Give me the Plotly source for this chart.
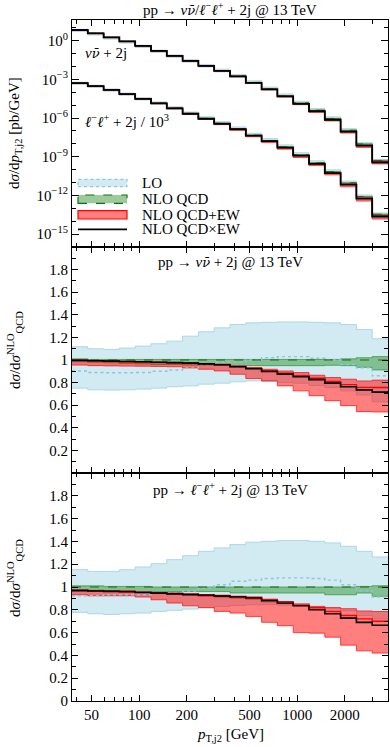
import plotly.graph_objects as go
from plotly.subplots import make_subplots
import math

# ---------------- data ----------------
edges = [37.6, 47.3, 59.6, 75.0, 94.4, 118.9, 149.6, 188.4, 237.1, 298.5, 375.8,
         473.2, 595.7, 749.9, 944.1, 1188.5, 1496.2, 1883.6, 2371.4, 2985.4, 3758.4]

# top panel: NLO QCDxEW differential cross sections [pb/GeV]
nn_qcdxew = [6.7, 3.7, 1.77, 0.865, 0.388, 0.159, 0.0655, 0.0269, 0.0110, 4.53e-3,
             1.70e-3, 5.35e-4, 1.68e-4, 4.82e-5, 1.27e-5, 3.34e-6, 7.35e-7, 8.67e-8,
             7.16e-9, 3.66e-10]
ll_qcdxew_scaled = [5.06e-4, 2.96e-4, 1.53e-4, 7.14e-5, 3.09e-5, 1.39e-5, 5.69e-6,
                    2.14e-6, 8.77e-7, 3.60e-7, 1.35e-7, 4.25e-8, 1.60e-8, 5.02e-9,
                    1.21e-9, 2.75e-10, 5.35e-11, 6.90e-12, 5.7e-13, 2.31e-14]

# ratios to NLO QCD, nu nubar + 2j
nn_lo_c  = [0.903, 0.889, 0.887, 0.887, 0.889, 0.90, 0.912, 0.93, 0.96, 0.982,
            0.982, 1.0, 1.02, 1.03, 1.03, 1.015, 1.0, 0.96, 0.93, 0.86]
nn_lo_up = [1.117, 1.10, 1.094, 1.106, 1.123, 1.144, 1.167, 1.211, 1.25, 1.285,
            1.314, 1.329, 1.334, 1.337, 1.337, 1.334, 1.329, 1.314, 1.27, 1.188]
nn_lo_dn = [0.751, 0.736, 0.734, 0.736, 0.742, 0.751, 0.763, 0.771, 0.786, 0.795,
            0.807, 0.815, 0.81, 0.80, 0.795, 0.775, 0.757, 0.727, 0.69, 0.63]
nn_qcd_up = [1.01, 1.005, 1.005, 1.005, 1.005, 1.005, 1.005, 1.005, 1.005, 1.005,
             1.005, 1.005, 1.005, 1.005, 1.005, 1.005, 1.005, 1.01, 1.02, 1.03]
nn_qcd_dn = [0.985, 0.98, 0.975, 0.97, 0.965, 0.96, 0.96, 0.955, 0.955, 0.955,
             0.95, 0.95, 0.95, 0.95, 0.95, 0.95, 0.953, 0.95, 0.935, 0.912]
nn_ew_c  = [0.997, 0.993, 0.99, 0.987, 0.984, 0.98, 0.977, 0.973, 0.967, 0.96,
            0.943, 0.927, 0.905, 0.884, 0.862, 0.838, 0.81, 0.782, 0.758, 0.757]
nn_ew_up = [1.0, 0.995, 0.99, 0.985, 0.98, 0.978, 0.975, 0.97, 0.962, 0.955,
            0.947, 0.933, 0.918, 0.903, 0.889, 0.865, 0.845, 0.83, 0.815, 0.822]
nn_ew_dn = [0.955, 0.95, 0.948, 0.946, 0.945, 0.943, 0.94, 0.93, 0.918, 0.903,
            0.874, 0.836, 0.815, 0.771, 0.727, 0.684, 0.64, 0.596, 0.543, 0.54]
nn_x     = [0.997, 0.993, 0.99, 0.987, 0.984, 0.98, 0.977, 0.972, 0.966, 0.958,
            0.94, 0.922, 0.898, 0.875, 0.852, 0.826, 0.795, 0.763, 0.736, 0.716]

# ratios to NLO QCD, l- l+ + 2j
ll_lo_c  = [0.923, 0.923, 0.932, 0.932, 0.932, 0.95, 0.95, 0.965, 0.99, 1.02,
            1.05, 1.06, 1.075, 1.08, 1.08, 1.075, 1.06, 1.02, 0.967, 0.912]
ll_lo_up = [1.152, 1.137, 1.137, 1.152, 1.176, 1.205, 1.24, 1.275, 1.313, 1.343,
            1.372, 1.393, 1.401, 1.407, 1.407, 1.401, 1.387, 1.357, 1.313, 1.264]
ll_lo_dn = [0.777, 0.765, 0.759, 0.765, 0.771, 0.786, 0.795, 0.806, 0.815, 0.829,
            0.838, 0.844, 0.845, 0.84, 0.835, 0.825, 0.81, 0.79, 0.75, 0.72]
ll_qcd_up = [1.01, 1.01, 1.005, 1.005, 1.005, 1.0, 1.0, 1.0, 1.0, 1.0,
             1.0, 1.0, 1.0, 1.0, 1.0, 1.0, 1.0, 1.0, 1.005, 1.011]
ll_qcd_dn = [0.976, 0.972, 0.968, 0.965, 0.96, 0.96, 0.96, 0.96, 0.96, 0.96,
             0.947, 0.947, 0.947, 0.947, 0.947, 0.947, 0.932, 0.932, 0.947, 0.918]
ll_ew_c  = [0.97, 0.967, 0.964, 0.96, 0.955, 0.95, 0.945, 0.938, 0.932, 0.925,
            0.918, 0.91, 0.89, 0.872, 0.85, 0.818, 0.785, 0.75, 0.72, 0.70]
ll_ew_up = [0.976, 0.967, 0.967, 0.967, 0.953, 0.947, 0.938, 0.932, 0.918, 0.912,
            0.903, 0.894, 0.87, 0.855, 0.84, 0.83, 0.82, 0.81, 0.79, 0.785]
ll_ew_dn = [0.932, 0.923, 0.923, 0.923, 0.912, 0.888, 0.859, 0.835, 0.82, 0.786,
            0.771, 0.742, 0.69, 0.66, 0.60, 0.595, 0.56, 0.49, 0.44, 0.42]
ll_x     = [0.968, 0.965, 0.962, 0.958, 0.952, 0.946, 0.94, 0.933, 0.927, 0.92,
            0.912, 0.903, 0.88, 0.86, 0.835, 0.80, 0.765, 0.727, 0.69, 0.665]

x_major_ticks = [50, 100, 200, 500, 1000, 2000]

# ---------------- styles ----------------
FONT = "Liberation Serif"
LO_FILL = "rgba(173,216,230,0.55)"
LO_EDGE = "rgba(160,208,225,1)"
LO_DOT = "rgba(140,198,220,1)"
QCD_FILL = "rgba(34,139,34,0.45)"
QCD_EDGE = "rgba(34,139,34,0.8)"
QCD_DASH = "rgb(20,110,20)"
EW_FILL = "rgba(255,0,0,0.5)"
EW_EDGE = "rgba(255,0,0,0.85)"

fig = make_subplots(rows=3, cols=1, shared_xaxes=True, vertical_spacing=0,
                    row_heights=[227, 226, 228])


def st(v):
    return list(v) + [v[-1]]


def line(row, y, color, width=1.0, dash="solid"):
    fig.add_trace(go.Scatter(x=edges, y=st(y), mode="lines", line_shape="hv",
                             line=dict(color=color, width=width, dash=dash),
                             showlegend=False, hoverinfo="skip"), row=row, col=1)


def band(row, lo, up, fill, edge, width=0.8):
    fig.add_trace(go.Scatter(x=edges, y=st(lo), mode="lines", line_shape="hv",
                             line=dict(color=edge, width=width),
                             showlegend=False, hoverinfo="skip"), row=row, col=1)
    fig.add_trace(go.Scatter(x=edges, y=st(up), mode="lines", line_shape="hv",
                             line=dict(color=edge, width=width), fill="tonexty",
                             fillcolor=fill, showlegend=False, hoverinfo="skip"),
                  row=row, col=1)


def draw_ratio(row, lo_c, lo_up, lo_dn, q_up, q_dn, ew_c, ew_up, ew_dn, xx):
    band(row, lo_dn, lo_up, LO_FILL, LO_EDGE)
    band(row, q_dn, q_up, QCD_FILL, QCD_EDGE)
    band(row, ew_dn, ew_up, EW_FILL, EW_EDGE)
    line(row, lo_c, LO_DOT, 1.4, "dot")
    line(row, [1.0] * len(xx), QCD_DASH, 1.2, "dash")
    line(row, ew_c, "red", 1.4)
    line(row, xx, "black", 1.6)


# top panel
for xs, lo_c, lo_up, lo_dn, q_up, q_dn, ew_c, ew_up, ew_dn, xx in [
        (nn_qcdxew, nn_lo_c, nn_lo_up, nn_lo_dn, nn_qcd_up, nn_qcd_dn, nn_ew_c, nn_ew_up, nn_ew_dn, nn_x),
        (ll_qcdxew_scaled, ll_lo_c, ll_lo_up, ll_lo_dn, ll_qcd_up, ll_qcd_dn, ll_ew_c, ll_ew_up, ll_ew_dn, ll_x)]:
    qcd = [a / b for a, b in zip(xs, xx)]
    mul = lambda r: [a * b for a, b in zip(qcd, r)]
    band(1, mul(lo_dn), mul(lo_up), LO_FILL, LO_EDGE)
    band(1, mul(q_dn), mul(q_up), QCD_FILL, QCD_EDGE)
    band(1, mul(ew_dn), mul(ew_up), EW_FILL, EW_EDGE)
    line(1, qcd, QCD_DASH, 1.0, "dash")
    line(1, mul(ew_c), "red", 1.2)
    line(1, xs, "black", 1.8)

draw_ratio(2, nn_lo_c, nn_lo_up, nn_lo_dn, nn_qcd_up, nn_qcd_dn, nn_ew_c, nn_ew_up, nn_ew_dn, nn_x)
draw_ratio(3, ll_lo_c, ll_lo_up, ll_lo_dn, ll_qcd_up, ll_qcd_dn, ll_ew_c, ll_ew_up, ll_ew_dn, ll_x)

# ---------------- axes ----------------
x_minor = [v * d for d in (10, 100, 1000) for v in range(1, 10)
           if 37.6 <= v * d <= 3758 and v * d not in x_major_ticks]
axis_common = dict(showline=True, linecolor="black", linewidth=1.2, mirror="allticks",
                   ticks="inside", tickcolor="black", showgrid=False, zeroline=False,
                   tickfont=dict(family=FONT, size=15, color="black"))
for r in (1, 2, 3):
    fig.update_xaxes(type="log", range=[math.log10(edges[0]), math.log10(edges[-1])],
                     tickvals=x_major_ticks,
                     ticktext=[str(v) for v in x_major_ticks] if r == 3 else [""] * 6,
                     showticklabels=(r == 3),
                     ticklen=6, tickwidth=1.2,
                     minor=dict(tickvals=x_minor, ticklen=3.5, tickcolor="black",
                                ticks="inside", tickwidth=1),
                     row=r, col=1, **axis_common)

exps = list(range(-16, 2))
fig.update_yaxes(type="log", range=[-16, 1.6],
                 tickvals=[10.0 ** e for e in exps if e % 3 == 0],
                 ticktext=["10<sup>%s</sup>" % (str(e).replace("-", "\u2212")) for e in exps if e % 3 == 0],
                 ticklen=7,
                 minor=dict(tickvals=[10.0 ** e for e in exps if e % 3 != 0], ticklen=4,
                            ticks="inside", tickcolor="black"),
                 row=1, col=1, **axis_common)
ratio_minor = [round(0.1 * k, 1) for k in range(1, 20, 2)]
fig.update_yaxes(range=[0, 2], tickvals=[0.2, 0.4, 0.6, 0.8, 1.0, 1.2, 1.4, 1.6, 1.8],
                 ticktext=["0.2", "0.4", "0.6", "0.8", "1", "1.2", "1.4", "1.6", "1.8"],
                 ticklen=6, minor=dict(tickvals=ratio_minor, ticklen=3.5, ticks="inside",
                                       tickcolor="black"),
                 row=2, col=1, **axis_common)
fig.update_yaxes(range=[0, 2], tickvals=[0, 0.2, 0.4, 0.6, 0.8, 1.0, 1.2, 1.4, 1.6, 1.8],
                 ticktext=["0", "0.2", "0.4", "0.6", "0.8", "1", "1.2", "1.4", "1.6", "1.8"],
                 ticklen=6, minor=dict(tickvals=ratio_minor, ticklen=3.5, ticks="inside",
                                       tickcolor="black"),
                 row=3, col=1, **axis_common)

# ---------------- texts ----------------
tf = dict(family=FONT, size=15, color="black")
NUNU = ("<i>ν</i><span style=\"font-family:'DejaVu Serif';font-size:13px\">"
        "<i>ν\u0304</i></span>")
LL = "<i>ℓ</i><sup>−</sup><i>ℓ</i><sup>+</sup>"
ann = []
ann.append(dict(text="pp → " + NUNU + "/" + LL + " + 2j @ 13 TeV",
                xref="paper", yref="paper", x=(230 - 72) / 316, y=(701 - 9) / 681,
                xanchor="center", yanchor="middle", showarrow=False, font=tf))
ann.append(dict(text=NUNU + " + 2j", xref="x domain", yref="y domain",
                x=(83 - 72) / 316, y=(247 - 53) / 227, xanchor="left", yanchor="middle",
                showarrow=False, font=tf))
ann.append(dict(text=LL + " + 2j / 10<sup>3</sup>",
                xref="x domain", yref="y domain",
                x=(83 - 72) / 316, y=(247 - 121) / 227, xanchor="left", yanchor="middle",
                showarrow=False, font=tf))
ann.append(dict(text="pp → " + NUNU + " + 2j @ 13 TeV", xref="paper", yref="paper",
                x=(230 - 72) / 316, y=(701 - 262) / 681, xanchor="center", yanchor="middle",
                showarrow=False, font=tf))
ann.append(dict(text="pp → " + LL + " + 2j @ 13 TeV",
                xref="paper", yref="paper",
                x=(230 - 72) / 316, y=(701 - 489) / 681, xanchor="center", yanchor="middle",
                showarrow=False, font=tf))
ann.append(dict(text="<i>p</i><sub>T,j2</sub> [GeV]", xref="paper", yref="paper",
                x=(230 - 72) / 316, y=(701 - 735) / 681, xanchor="center", yanchor="middle",
                showarrow=False, font=tf))
ann.append(dict(text="d<i>σ</i>/d<i>p</i><sub>T,j2</sub> [pb/GeV]", xref="paper", yref="paper",
                x=(15 - 72) / 316, y=(701 - 133) / 681, xanchor="center", yanchor="middle",
                textangle=-90, showarrow=False, font=tf))
for yc in (350, 578):
    ann.append(dict(text="d<i>σ</i>/d<i>σ</i><sup>NLO</sup><sub>QCD</sub>", xref="paper",
                    yref="paper", x=(15 - 72) / 316, y=(701 - yc) / 681,
                    xanchor="center", yanchor="middle", textangle=-90, showarrow=False,
                    font=tf))

# legend (drawn in top panel)
lx0, lx1, ltx = (78 - 72) / 316, (127 - 72) / 316, (140 - 72) / 316
yf = lambda py: (247 - py) / 227
shapes = [
    dict(type="rect", xref="x domain", yref="y domain", x0=lx0, x1=lx1,
         y0=yf(186.7), y1=yf(179.3), fillcolor=LO_FILL,
         line=dict(color=LO_DOT, width=1.2, dash="dot")),
    dict(type="rect", xref="x domain", yref="y domain", x0=lx0, x1=lx1,
         y0=yf(203.3), y1=yf(195), fillcolor=QCD_FILL,
         line=dict(color=QCD_DASH, width=1.2, dash="dash")),
    dict(type="rect", xref="x domain", yref="y domain", x0=lx0, x1=lx1,
         y0=yf(219), y1=yf(210.7), fillcolor=EW_FILL,
         line=dict(color="red", width=1.2)),
    dict(type="line", xref="x domain", yref="y domain", x0=lx0, x1=lx1,
         y0=yf(229.3), y1=yf(229.3), line=dict(color="black", width=1.8)),
]
for txt, py in [("LO", 183), ("NLO QCD", 199), ("NLO QCD+EW", 215), ("NLO QCD×EW", 229.3)]:
    ann.append(dict(text=txt, xref="x domain", yref="y domain", x=ltx, y=yf(py),
                    xanchor="left", yanchor="middle", showarrow=False, font=tf))

fig.update_layout(width=390, height=747, margin=dict(l=72, r=2, t=20, b=46),
                  paper_bgcolor="white", plot_bgcolor="white", showlegend=False,
                  annotations=ann, shapes=shapes, font=tf)
fig.write_html("out.html", config={"displayModeBar": False},
               post_script="document.body.style.margin='0';document.body.style.overflow='hidden';")
